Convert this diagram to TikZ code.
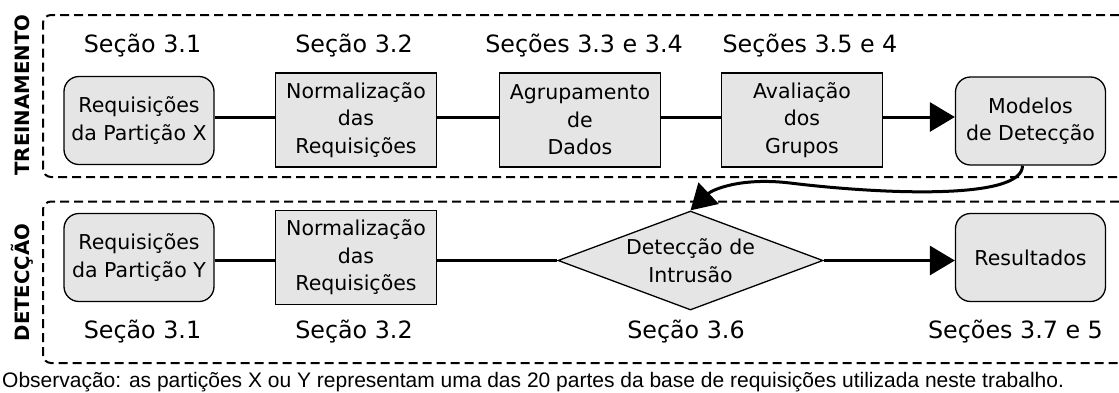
\documentclass[tikz,border=0pt]{standalone}
\usepackage{fontspec}
\setmainfont{DejaVu Sans}
\newfontfamily\notefont{Liberation Sans}
\usetikzlibrary{shapes.geometric,arrows.meta}

\begin{document}
\begin{tikzpicture}[x=1pt,y=-1pt,
  passo/.style={draw=black,line width=1.3pt,fill=black!10,minimum width=161pt,minimum height=94pt,inner sep=0pt,align=center,font=\fontsize{20.5}{27.5}\selectfont},
  dados/.style={passo,rounded corners=15pt,minimum width=150pt,minimum height=88pt},
  decisao/.style={passo,diamond,aspect=2.68,minimum width=265pt,minimum height=99pt},
  secao/.style={anchor=base,inner sep=0pt,font=\fontsize{23.8}{28}\selectfont},
  fase/.style={rotate=90,inner sep=0pt,font=\fontsize{19.7}{24}\selectfont\bfseries},
  liga/.style={line width=3pt},
  seta/.style={liga,-{Triangle[length=25pt,width=29pt]}},
  moldura/.style={dash pattern=on 9pt off 5pt,line width=2pt,rounded corners=8pt}]
\useasboundingbox (0,0) rectangle (1119,392);
\draw[moldura] (1119,15) -- (43,15) -- (43,177) -- (1119,177);
\draw[moldura] (1119,201.5) -- (43,201.5) -- (43,363) -- (1119,363);
\node[fase] (treino) at (22.5,95) {TREINAMENTO};
\node[fase] (deteccao) at (22.5,282.5) {DETECÇÃO};
\node[secao] (sec31a) at (142.5,52) {Seção 3.1};
\node[secao] (sec32a) at (354,52) {Seção 3.2};
\node[secao] (sec33) at (584,52) {Seções 3.3 e 3.4};
\node[secao] (sec35) at (810,52) {Seções 3.5 e 4};
\node[dados] (reqX) at (139,120.5) {Requisições\\da Partição X};
\node[passo] (normX) at (356,120) {Normalização\\das\\Requisições};
\node[passo] (agrup) at (580,120) {Agrupamento\\de\\Dados};
\node[passo] (aval) at (802,120) {Avaliação\\dos\\Grupos};
\node[dados] (modelos) at (1030.5,121) {Modelos\\de Detecção};
\draw[liga] ([yshift=3pt]reqX.east) -- ([yshift=3pt]reqX.east -| normX.west);
\draw[liga] ([yshift=3pt]normX.east) -- ([yshift=3pt]agrup.west);
\draw[liga] ([yshift=3pt]agrup.east) -- ([yshift=3pt]aval.west);
\draw[seta] ([yshift=3pt]aval.east) -- ([yshift=3pt]modelos.west |- aval.east);
\node[dados] (reqY) at (139,257.5) {Requisições\\da Partição Y};
\node[passo] (normY) at (356,257.5) {Normalização\\das\\Requisições};
\node[decisao] (intrusao) at (690.5,260.5) {Detecção de\\Intrusão};
\node[dados] (result) at (1030.5,257.5) {Resultados};
\draw[liga] ([yshift=-3pt]reqY.east) -- ([yshift=-3pt]normY.west);
\draw[liga] ([yshift=-3pt]normY.east) -- (intrusao.west);
\draw[seta] (intrusao.east) -- ([yshift=-3pt]result.west);
\draw[seta] ([xshift=-8pt]modelos.south) .. controls +(0,35) and (880,194) .. (790,183) .. controls (740,177) and (712,190) .. (intrusao.north);
\node[secao] (sec31b) at (142.5,338) {Seção 3.1};
\node[secao] (sec32b) at (354,338) {Seção 3.2};
\node[secao] (sec36) at (686,338) {Seção 3.6};
\node[secao] (sec37) at (1015.5,338) {Seções 3.7 e 5};
\node[anchor=base west,inner sep=0pt,font=\notefont\fontsize{21}{24}\selectfont] (nota) at (2,387) {Observação: as partições X ou Y representam uma das 20 partes da base de requisições utilizada neste trabalho.};
\end{tikzpicture}
\end{document}
